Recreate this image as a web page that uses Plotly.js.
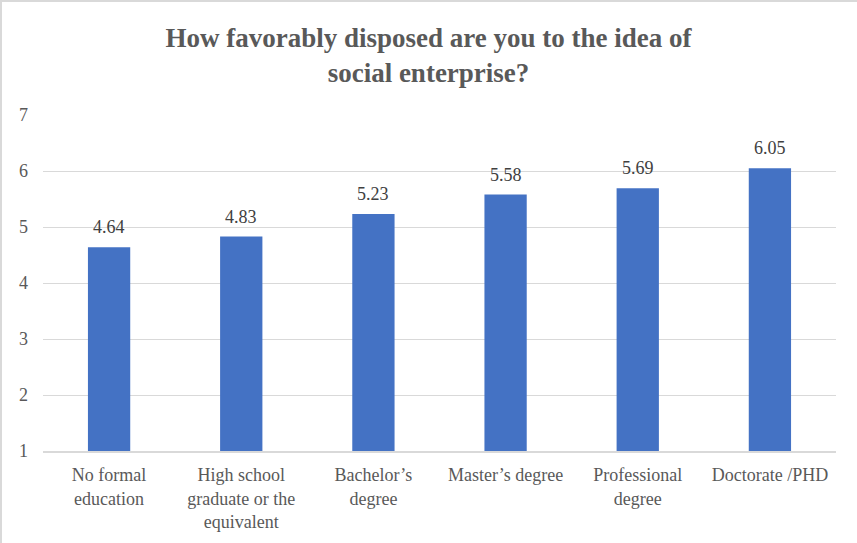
<!DOCTYPE html>
<html><head><meta charset="utf-8">
<script src="https://cdn.plot.ly/plotly-3.0.1.min.js"></script>
<style>
html,body{margin:0;padding:0;background:#fff;}
#frame{position:absolute;left:0;top:0;width:855px;height:541px;border:1px solid #d9d9d9;border-left-width:2px;border-top-width:2px;pointer-events:none;}
#chart{position:absolute;left:0;top:0;width:857px;height:543px;}
</style></head>
<body>
<div id="chart"></div>
<div id="frame"></div>
<script>
const categories = ["No formal<br>education","High school<br>graduate or the<br>equivalent","Bachelor’s<br>degree","Master’s degree","Professional<br>degree","Doctorate /PHD"];
const values = [4.64, 4.83, 5.23, 5.58, 5.69, 6.05];
const labels = ["4.64","4.83","5.23","5.58","5.69","6.05"];
const titleText = "How favorably disposed are you to the idea of<br>social enterprise?";

const font = "Liberation Serif";
const trace = {
  type: "bar", x: categories, y: values.map(v => v - 1), base: 1,
  marker: {color: "#4472c4"}, width: 0.32, hoverinfo: "none"
};

const annotations = categories.map((c, i) => ({
  x: c, y: values[i], xref: "x", yref: "y", text: labels[i],
  showarrow: false, yanchor: "bottom", yshift: 8,
  font: {family: font, size: 18, color: "#404040"}
}));

const layout = {
  width: 857, height: 543,
  margin: {l: 43, r: 21, t: 115, b: 92},
  paper_bgcolor: "#fff", plot_bgcolor: "#fff",
  font: {family: font},
  title: {text: titleText, x: 0.5, xanchor: "center", y: 0.914, yref: "container", yanchor: "middle",
          font: {family: font, size: 27, color: "#595959", weight: "bold"}},
  xaxis: {type: "category", tickfont: {family: font, size: 18, color: "#595959"},
          showline: true, linecolor: "#d9d9d9", linewidth: 1.5, ticks: "", showgrid: false,
          ticklabelstandoff: 7},
  yaxis: {range: [1, 7], dtick: 1, tick0: 1, showgrid: true, gridcolor: "#d9d9d9", gridwidth: 1,
          zeroline: false, showline: false, ticks: "",
          tickfont: {family: font, size: 18, color: "#595959"}, ticklabelstandoff: 14},
  annotations: annotations,
  showlegend: false
};
Plotly.newPlot("chart", [trace], layout, {displayModeBar: false, staticPlot: true});
</script>
</body></html>
